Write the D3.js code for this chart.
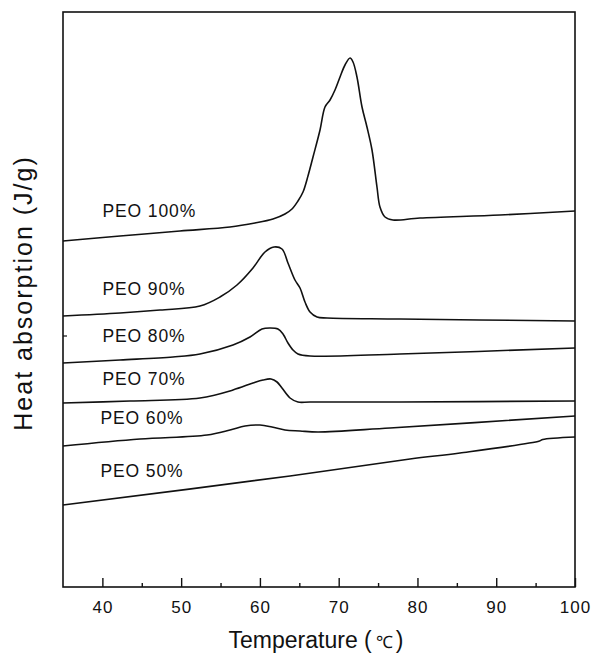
<!DOCTYPE html>
<html>
<head>
<meta charset="utf-8">
<script src="https://cdn.jsdelivr.net/npm/d3@7/dist/d3.min.js"></script>
<style>
  body { margin: 0; background: #fff; }
  text { font-family: "Liberation Sans", Arial, sans-serif; fill: #111; }
</style>
</head>
<body>
<div id="chart"></div>
<script>
// DSC curves: temperature (C) and heat flow (arbitrary units)
const temp100 = [35, 42.24, 49.85, 56.2, 59.37, 61.66, 63.18, 64.07, 64.83, 65.47, 66.1, 66.74, 67.63, 68.26, 68.9, 69.53, 70.17, 70.8, 71.44, 71.82, 72.32, 72.96, 73.59, 74.23, 74.86, 75.24, 75.88, 76.89, 80.32, 90.48, 100];
const heat100 = [6.92, 7.02, 7.12, 7.2, 7.28, 7.36, 7.46, 7.56, 7.72, 7.9, 8.22, 8.6, 9.14, 9.6, 9.74, 9.94, 10.2, 10.44, 10.58, 10.5, 10.2, 9.6, 9.2, 8.74, 8.0, 7.6, 7.4, 7.34, 7.38, 7.44, 7.52];

const temp90 = [35, 42.24, 47.31, 52.39, 54.93, 57.09, 59.12, 60.64, 61.79, 62.8, 63.56, 64.45, 65.09, 65.72, 66.36, 67.25, 68.52, 77.78, 100];
const heat90 = [5.42, 5.48, 5.54, 5.62, 5.8, 6.04, 6.38, 6.7, 6.8, 6.76, 6.48, 6.14, 5.98, 5.7, 5.5, 5.4, 5.38, 5.36, 5.32];

const temp80 = [35, 42.24, 48.96, 52.39, 56.58, 58.74, 60.26, 61.28, 62.29, 62.93, 63.56, 64.2, 64.83, 66.36, 77.78, 100];
const heat80 = [4.48, 4.54, 4.6, 4.66, 4.84, 5.0, 5.16, 5.18, 5.16, 5.06, 4.88, 4.74, 4.66, 4.62, 4.66, 4.78];

const temp70 = [35, 43.51, 52.39, 56.58, 59.12, 60.39, 61.41, 62.17, 62.8, 63.82, 64.83, 66.36, 77.78, 100];
const heat70 = [3.68, 3.72, 3.78, 3.94, 4.08, 4.14, 4.16, 4.1, 3.98, 3.78, 3.7, 3.7, 3.7, 3.72];

const temp60 = [35, 44.78, 53.28, 56.2, 58.11, 60.01, 61.53, 63.18, 65.09, 67.38, 76.51, 100];
const heat60 = [2.82, 2.96, 3.04, 3.14, 3.22, 3.24, 3.2, 3.14, 3.12, 3.1, 3.18, 3.42];

const temp50 = [35, 63.82, 79.05, 85.4, 95.5, 95.9, 100];
const heat50 = [1.64, 2.22, 2.56, 2.68, 2.92, 2.95, 3.0];

const seriesNames = ["PEO 100%", "PEO 90%", "PEO 80%", "PEO 70%", "PEO 60%", "PEO 50%"];
const majorTicks = [40, 50, 60, 70, 80, 90, 100];
const minorTicks = [45, 55, 65, 75, 85, 95];

// label anchors (temperature, heat units)
const labelT = [40, 40, 40, 40, 39.75, 39.75];
const labelH = [7.4, 5.84, 4.9, 4.04, 3.26, 2.2];

const W = 594, H = 656;
const plot = {left: 63, right: 575, top: 12, bottom: 587};

const svg = d3.select("#chart")
    .append("svg")
    .attr("width", W)
    .attr("height", H);

const x = d3.scaleLinear()
    .domain([35, 100])
    .range([plot.left, plot.right]);

const y = d3.scaleLinear()
    .domain([0, 11.5])
    .range([plot.bottom, plot.top]);

const series = [
    {name: seriesNames[0], t: temp100, h: heat100},
    {name: seriesNames[1], t: temp90, h: heat90},
    {name: seriesNames[2], t: temp80, h: heat80},
    {name: seriesNames[3], t: temp70, h: heat70},
    {name: seriesNames[4], t: temp60, h: heat60},
    {name: seriesNames[5], t: temp50, h: heat50}
];

const line = d3.line()
    .x(function (d) { return x(d[0]); })
    .y(function (d) { return y(d[1]); })
    .curve(d3.curveCatmullRom.alpha(0.5));

svg.append("g")
    .selectAll("path")
    .data(series)
    .enter()
    .append("path")
    .attr("d", function (s) { return line(d3.zip(s.t, s.h)); })
    .attr("fill", "none")
    .attr("stroke", "#111")
    .attr("stroke-width", 1.6);

// frame
svg.append("rect")
    .attr("x", plot.left)
    .attr("y", plot.top)
    .attr("width", plot.right - plot.left)
    .attr("height", plot.bottom - plot.top)
    .attr("fill", "none")
    .attr("stroke", "#111")
    .attr("stroke-width", 1.6);

// bottom axis, ticks pointing inward
const xAxis = svg.append("g")
    .attr("transform", "translate(0," + plot.bottom + ")");

xAxis.call(d3.axisBottom(x).tickValues(minorTicks).tickSize(-4).tickFormat(""));
xAxis.select(".domain").remove();

const xMajor = svg.append("g")
    .attr("transform", "translate(0," + plot.bottom + ")")
    .call(d3.axisBottom(x).tickValues(majorTicks).tickSize(-9).tickPadding(14).tickFormat(d3.format("d")));
xMajor.select(".domain").remove();
xMajor.selectAll("text")
    .style("font-size", "17px")
    .style("letter-spacing", "1px")
    .attr("fill", "#111");

svg.selectAll(".tick line")
    .attr("stroke", "#111")
    .attr("stroke-width", 1.4);

// stray mark on left axis
svg.append("line")
    .attr("x1", plot.left).attr("x2", plot.left + 4)
    .attr("y1", y(5.02)).attr("y2", y(5.02))
    .attr("stroke", "#111")
    .attr("stroke-width", 1.2);

// series labels
svg.append("g")
    .selectAll("text")
    .data(series)
    .enter()
    .append("text")
    .attr("x", function (d, i) { return x(labelT[i]); })
    .attr("y", function (d, i) { return y(labelH[i]); })
    .style("font-size", "17.5px")
    .style("letter-spacing", "0.9px")
    .text(function (d) { return d.name; });

// axis titles
const xTitle = svg.append("text")
    .attr("x", 316)
    .attr("y", 648)
    .attr("text-anchor", "middle")
    .style("font-size", "23px");
xTitle.append("tspan").text("Temperature (");
xTitle.append("tspan").attr("dx", 4).style("font-size", "17px").text("℃");
xTitle.append("tspan").attr("dx", 3).text(")");

svg.append("text")
    .attr("transform", "translate(32,293) rotate(-90)")
    .attr("text-anchor", "middle")
    .style("font-size", "25px")
    .style("letter-spacing", "2px")
    .text("Heat absorption (J/g)");
</script>
</body>
</html>
